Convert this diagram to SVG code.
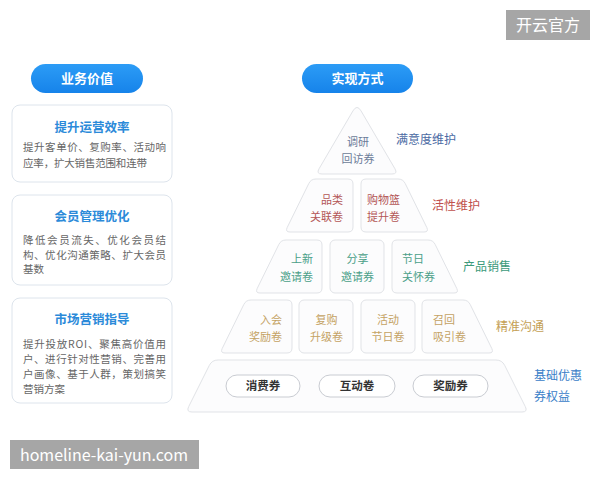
<svg xmlns="http://www.w3.org/2000/svg" width="600" height="480" viewBox="0 0 600 480">
<defs>
<linearGradient id="pillg" x1="0" y1="0" x2="0" y2="1">
<stop offset="0" stop-color="#2c9cf6"/>
<stop offset="1" stop-color="#1683ea"/>
</linearGradient>
</defs>
<style>
text{font-family:"Noto Sans CJK SC","Noto Sans",sans-serif;}
.pill{fill:url(#pillg);}
.pilltxt{fill:#fff;font-size:13px;font-weight:bold;text-anchor:middle;}
.card{fill:#fff;stroke:#dde4ec;stroke-width:1;}
.ctitle{fill:#2b8ad9;font-size:12.5px;font-weight:bold;text-anchor:middle;}
.cbody{fill:#666;font-size:10.5px;}
.pc{fill:#fcfcfd;stroke:#e1e3e7;stroke-width:1;}
.t{font-size:11px;}
.top{fill:#6b7b98;}
.r2{fill:#b35656;}
.r3{fill:#4a9f88;}
.r4{fill:#c4a263;}
.mid{text-anchor:middle;}
.end{text-anchor:end;}
.side{font-size:12px;}
.bp{fill:#fff;stroke:#c9ccd2;stroke-width:1;}
.bptxt{fill:#333;font-size:11.5px;font-weight:bold;text-anchor:middle;}
.wm{fill:#a6a6a6;}
.wmt{fill:#fff;}
</style>

<g id="watermark-top">
<rect class="wm" x="506" y="10" width="84" height="30"/>
<text class="wmt" x="548" y="31" font-size="16" text-anchor="middle">开云官方</text>
</g>

<g id="header-left">
<rect class="pill" x="31" y="64" width="112" height="29" rx="14.5"/>
<text class="pilltxt" x="87" y="83">业务价值</text>
</g>
<g id="header-right">
<rect class="pill" x="302" y="64" width="111" height="29" rx="14.5"/>
<text class="pilltxt" x="357.5" y="83">实现方式</text>
</g>

<g id="card1">
<rect class="card" x="12" y="105" width="160" height="77" rx="8"/>
<text class="ctitle" x="92" y="131.5">提升运营效率</text>
<text class="cbody" x="23" y="151" textLength="143" lengthAdjust="spacing">提升客单价、复购率、活动响</text>
<text class="cbody" x="23" y="167" textLength="124" lengthAdjust="spacing">应率，扩大销售范围和连带</text>
</g>

<g id="card2">
<rect class="card" x="12" y="195" width="160" height="90" rx="8"/>
<text class="ctitle" x="92" y="221">会员管理优化</text>
<text class="cbody" x="23" y="244" textLength="143" lengthAdjust="spacing">降低会员流失、优化会员结</text>
<text class="cbody" x="23" y="258.5" textLength="143" lengthAdjust="spacing">构、优化沟通策略、扩大会员</text>
<text class="cbody" x="23" y="273">基数</text>
</g>

<g id="card3">
<rect class="card" x="12" y="298" width="160" height="105" rx="8"/>
<text class="ctitle" x="92" y="324">市场营销指导</text>
<text class="cbody" x="23" y="347.5" textLength="143" lengthAdjust="spacing">提升投放ROI、聚焦高价值用</text>
<text class="cbody" x="23" y="362.5" textLength="143" lengthAdjust="spacing">户、进行针对性营销、完善用</text>
<text class="cbody" x="23" y="377.5" textLength="143" lengthAdjust="spacing">户画像、基于人群，策划搞笑</text>
<text class="cbody" x="23" y="392.5">营销方案</text>
</g>

<g id="tier1">
<path class="pc" d="M361.04,110.9 L394.97,168.82 Q398,174 392,174 L322,174 Q316,174 319.03,168.82 L352.96,110.9 Q357,104 361.04,110.9 Z"/>
<text class="t top mid" x="358" y="146">调研</text>
<text class="t top mid" x="358" y="163">回访券</text>
</g>
<g id="tier1-label"><text class="side" x="396" y="144" fill="#4b6aa3">满意度维护</text></g>

<g id="tier2-left">
<path class="pc" d="M316,179 L348,179 Q353,179 353,184 L353,227 Q353,232 348,232 L290,232 Q285,232 287.2,227.51 L308.8,183.49 Q311,179 316,179 Z"/>
<text class="t r2 end" x="343" y="204">品类</text>
<text class="t r2 end" x="343" y="221">关联卷</text>
</g>
<g id="tier2-right">
<path class="pc" d="M366,179 L398,179 Q403,179 405.2,183.49 L426.8,227.51 Q429,232 424,232 L366,232 Q361,232 361,227 L361,184 Q361,179 366,179 Z"/>
<text class="t r2" x="367" y="204">购物篮</text>
<text class="t r2" x="367" y="221">提升卷</text>
</g>
<g id="tier2-label"><text class="side" x="432" y="210" fill="#c0504c">活性维护</text></g>

<g id="tier3-left">
<path class="pc" d="M286,240 L317,240 Q322,240 322,245 L322,288 Q322,293 317,293 L260,293 Q255,293 257.2,288.51 L278.8,244.49 Q281,240 286,240 Z"/>
<text class="t r3 end" x="313" y="263">上新</text>
<text class="t r3 end" x="313" y="281">邀请卷</text>
</g>
<g id="tier3-mid">
<rect class="pc" x="330" y="240" width="54" height="53" rx="5"/>
<text class="t r3 mid" x="357.5" y="263">分享</text>
<text class="t r3 mid" x="357.5" y="281">邀请券</text>
</g>
<g id="tier3-right">
<path class="pc" d="M397,240 L428,240 Q433,240 435.2,244.49 L456.8,288.51 Q459,293 454,293 L397,293 Q392,293 392,288 L392,245 Q392,240 397,240 Z"/>
<text class="t r3" x="402" y="263">节日</text>
<text class="t r3" x="402" y="281">关怀券</text>
</g>
<g id="tier3-label"><text class="side" x="463" y="271" fill="#3c9a7b">产品销售</text></g>

<g id="tier4-1">
<path class="pc" d="M251,300 L287,300 Q292,300 292,305 L292,348 Q292,353 287,353 L225,353 Q220,353 222.2,348.51 L243.8,304.49 Q246,300 251,300 Z"/>
<text class="t r4 end" x="282" y="324">入会</text>
<text class="t r4 end" x="282" y="341">奖励卷</text>
</g>
<g id="tier4-2">
<rect class="pc" x="299" y="300" width="54" height="53" rx="5"/>
<text class="t r4 mid" x="326.5" y="324">复购</text>
<text class="t r4 mid" x="326.5" y="341">升级卷</text>
</g>
<g id="tier4-3">
<rect class="pc" x="361" y="300" width="54" height="53" rx="5"/>
<text class="t r4 mid" x="388" y="324">活动</text>
<text class="t r4 mid" x="388" y="341">节日卷</text>
</g>
<g id="tier4-4">
<path class="pc" d="M427,300 L463,300 Q468,300 470.2,304.49 L491.8,348.51 Q494,353 489,353 L427,353 Q422,353 422,348 L422,305 Q422,300 427,300 Z"/>
<text class="t r4" x="433" y="324">召回</text>
<text class="t r4" x="433" y="341">吸引卷</text>
</g>
<g id="tier4-label"><text class="side" x="496" y="331" fill="#c4a055">精准沟通</text></g>

<g id="tier5">
<path class="pc" d="M218,360 L496,360 Q502,360 504.68,365.37 L525.32,406.63 Q528,412 522,412 L192,412 Q186,412 188.68,406.63 L209.32,365.37 Q212,360 218,360 Z"/>
<rect class="bp" x="226" y="375" width="74" height="22" rx="11"/>
<text class="bptxt" x="263" y="390">消费券</text>
<rect class="bp" x="319" y="375" width="76" height="22" rx="11"/>
<text class="bptxt" x="357" y="390">互动卷</text>
<rect class="bp" x="413" y="375" width="75" height="22" rx="11"/>
<text class="bptxt" x="450.5" y="390">奖励券</text>
</g>
<g id="tier5-label">
<text class="side" x="534" y="380" fill="#3a80c8">基础优惠</text>
<text class="side" x="534" y="401" fill="#3a80c8">券权益</text>
</g>

<g id="connectors"></g>

<g id="watermark-bottom">
<rect class="wm" x="10" y="440" width="189" height="29"/>
<text class="wmt" x="20" y="460.5" font-size="16" textLength="168" lengthAdjust="spacing" font-family="Liberation Sans, Arial, sans-serif">homeline-kai-yun.com</text>
</g>
</svg>
